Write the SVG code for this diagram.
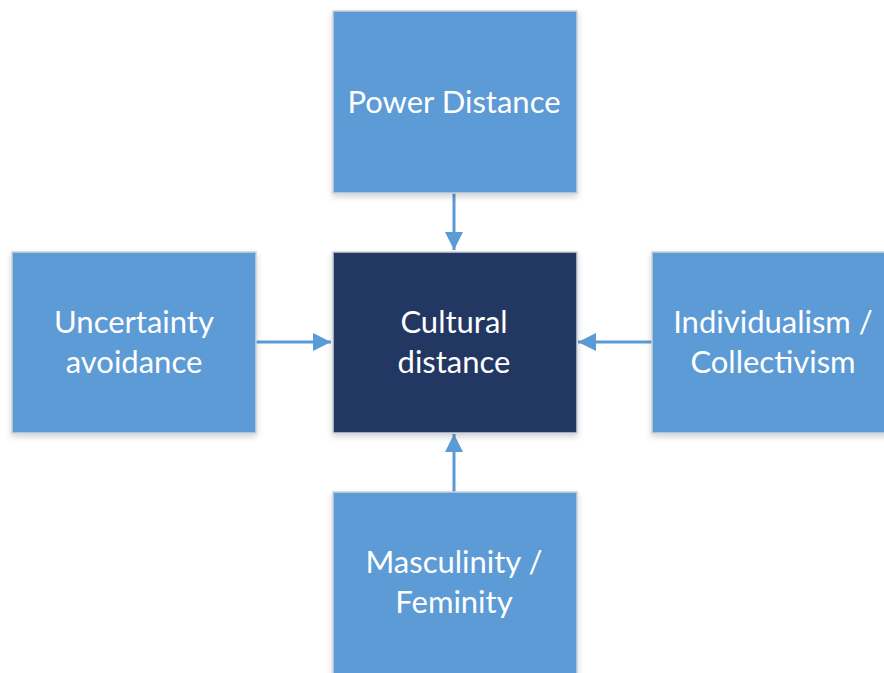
<svg xmlns="http://www.w3.org/2000/svg" width="884" height="673" viewBox="0 0 884 673">
  <defs>
    <filter id="shadow" x="-10%" y="-10%" width="120%" height="130%">
      <feGaussianBlur in="SourceAlpha" stdDeviation="3"/>
      <feOffset dy="3"/>
      <feComponentTransfer><feFuncA type="linear" slope="0.18"/></feComponentTransfer>
      <feMerge><feMergeNode/><feMergeNode in="SourceGraphic"/></feMerge>
    </filter>
    <marker id="head" markerWidth="6" markerHeight="6" refX="6" refY="3" orient="auto" markerUnits="strokeWidth">
      <path d="M0,0 L6,3 L0,6 Z" fill="#5b9bd5"/>
    </marker>
  </defs>
  <style>
    .box { fill: #5b9bd5; stroke: #c9d3dc; stroke-width: 1.5; filter: url(#shadow); }
    .core { fill: #203864; stroke: #c9d3dc; stroke-width: 1.5; filter: url(#shadow); }
    .lbl { fill: #ffffff; font-family: Lato, "Open Sans", "Liberation Sans", sans-serif; font-size: 31px; text-anchor: middle; }
    .edge { stroke: #5b9bd5; stroke-width: 3; fill: none; marker-end: url(#head); }
  </style>
  <rect width="884" height="673" fill="#ffffff"/>

  <g id="edges">
    <line class="edge" x1="454" y1="193" x2="454" y2="250"/>
    <line class="edge" x1="256" y1="342" x2="331" y2="342"/>
    <line class="edge" x1="652" y1="342" x2="578" y2="342"/>
    <line class="edge" x1="454" y1="492" x2="454" y2="434"/>
  </g>

  <g id="power-distance">
    <rect class="box" x="333" y="11" width="244" height="182"/>
    <text class="lbl" x="454" y="113">Power Distance</text>
  </g>

  <g id="uncertainty-avoidance">
    <rect class="box" x="12" y="252" width="244" height="181"/>
    <text class="lbl" x="134" y="333">Uncertainty</text>
    <text class="lbl" x="134" y="373">avoidance</text>
  </g>

  <g id="cultural-distance">
    <rect class="core" x="333" y="252" width="244" height="181"/>
    <text class="lbl" x="454" y="333">Cultural</text>
    <text class="lbl" x="454" y="373">distance</text>
  </g>

  <g id="individualism-collectivism">
    <rect class="box" x="652" y="252" width="244" height="181"/>
    <text class="lbl" x="773" y="333">Individualism /</text>
    <text class="lbl" x="773" y="373">Collectivism</text>
  </g>

  <g id="masculinity-feminity">
    <rect class="box" x="333" y="492" width="244" height="200"/>
    <text class="lbl" x="454" y="573">Masculinity /</text>
    <text class="lbl" x="454" y="613">Feminity</text>
  </g>
</svg>
